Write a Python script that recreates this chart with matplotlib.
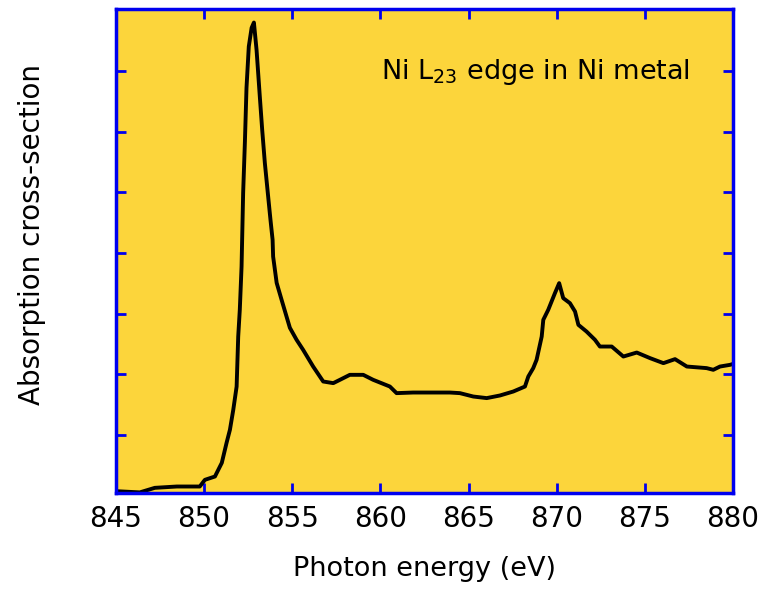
import numpy as np
import matplotlib
matplotlib.use('Agg')
import matplotlib.pyplot as plt

# Ni L2,3 edge (arbitrary units)
energy = [845.0, 846.36, 847.21, 848.46, 849.76, 850.05, 850.62, 851.01, 851.28,
          851.47, 851.66, 851.85, 851.94, 852.03, 852.13, 852.22, 852.32, 852.41,
          852.54, 852.70, 852.83, 852.98, 853.17, 853.30, 853.45, 853.64, 853.77,
          853.89, 853.92, 854.12, 854.40, 854.68, 854.87, 855.25, 855.62, 856.19,
          856.76, 857.33, 857.71, 858.27, 859.03, 859.59, 860.54, 860.92, 861.86,
          863.94, 864.51, 865.27, 866.03, 866.78, 867.54, 868.20, 868.39, 868.67,
          868.86, 869.15, 869.24, 869.52, 869.90, 870.14, 870.37, 870.75, 871.04,
          871.23, 871.69, 872.17, 872.45, 873.12, 873.78, 874.54, 875.29, 876.05,
          876.71, 877.38, 878.50, 878.88, 879.26, 879.83, 880.0]
absorption = [0.07, 0.05, 0.125, 0.147, 0.147, 0.257, 0.312, 0.538, 0.868,
              1.083, 1.413, 1.797, 2.622, 3.063, 3.777, 4.993, 5.84, 6.726,
              7.408, 7.716, 7.804, 7.353, 6.561, 6.033, 5.488, 4.927, 4.548,
              4.218, 3.942, 3.508, 3.228, 2.952, 2.766, 2.568, 2.403, 2.127,
              1.880, 1.853, 1.908, 1.990, 1.990, 1.908, 1.797, 1.688, 1.698,
              1.698, 1.688, 1.632, 1.606, 1.649, 1.715, 1.797, 1.962, 2.101,
              2.238, 2.622, 2.898, 3.063, 3.338, 3.503, 3.256, 3.173, 3.035,
              2.815, 2.705, 2.568, 2.457, 2.457, 2.292, 2.358, 2.266, 2.183,
              2.249, 2.127, 2.101, 2.073, 2.127, 2.155, 2.17]

xticks = [845, 850, 855, 860, 865, 870, 875, 880]
yticks = [1, 2, 3, 4, 5, 6, 7]

blue = '#0000EE'
fig = plt.figure(figsize=(7.62, 5.89), dpi=100)
ax = fig.add_axes([0.152, 0.163, 0.81, 0.822])
ax.set_facecolor('#FCD53B')
ax.plot(energy, absorption, color='black', lw=2.8)

ax.set_xlim(845, 880)
ax.set_ylim(0.04, 8.03)
ax.set_xticks(xticks)
ax.set_yticks(yticks)
ax.set_yticklabels([])
ax.tick_params(direction='in', length=7, width=2, color=blue,
               top=True, right=True, labelsize=20, pad=9)
for s in ax.spines.values():
    s.set_color(blue)
    s.set_linewidth(2.5)

ax.set_xlabel('Photon energy (eV)', fontsize=19.5)
ax.xaxis.set_label_coords(0.5, -0.13)
ax.set_ylabel('Absorption cross-section', fontsize=20)
ax.yaxis.set_label_coords(-0.113, 0.533)
ax.text(0.43, 0.855, r'Ni L$_{23}$ edge in Ni metal', transform=ax.transAxes,
        fontsize=19.5)

plt.savefig('out.png', dpi=100)
